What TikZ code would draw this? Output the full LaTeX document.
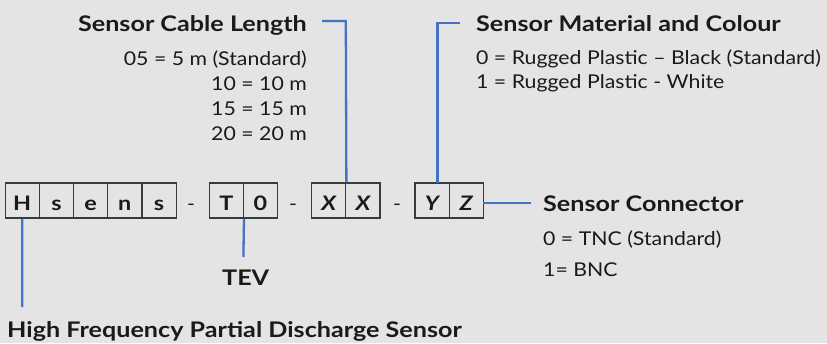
\documentclass[tikz,border=0pt]{standalone}
\usepackage{fontspec}
\setmainfont[FakeStretch=1.12]{Lato}
\newfontfamily\boldwide[FakeStretch=1.17]{Lato}
\definecolor{bg}{HTML}{E4E4E4}
\definecolor{lineblue}{HTML}{4472C4}
\definecolor{ink}{HTML}{1A1A1A}
\definecolor{boxline}{HTML}{3A3A3A}
\tikzset{
  cell/.style={draw=boxline, line width=1.2pt, minimum width=34.2pt, inner sep=0pt,
    text height=27pt, text depth=8pt, font=\boldwide\fontsize{20}{24}\selectfont\bfseries, text=ink},
  sep/.style={inner sep=0pt, anchor=base, font=\fontsize{19}{23}\selectfont, text=ink},
  title/.style={inner sep=0pt, font=\boldwide\fontsize{21.5}{26}\selectfont\bfseries, text=ink},
  item/.style={inner sep=0pt, font=\fontsize{19}{23}\selectfont, text=ink},
  conn/.style={draw=lineblue, line width=2.3pt}
}
\begin{document}
\begin{tikzpicture}[x=1pt,y=-1pt]
\fill[bg] (0,0) rectangle (827,343);
\useasboundingbox (0,0) rectangle (827,343);
% code cells
\node[cell] (h)  at (22.2,200.5) {H};
\node[cell] (s1) at (56.4,200.5) {s};
\node[cell] (e)  at (90.6,200.5) {e};
\node[cell] (n)  at (124.8,200.5) {n};
\node[cell] (s2) at (159,200.5) {s};
\node[sep] (d1) at (191,210) {-};
\node[cell] (t)  at (226.3,200.5) {T};
\node[cell] (o)  at (260.5,200.5) {0};
\node[sep] (d2) at (293,210) {-};
\node[cell] (x1) at (328.7,200.5) {\itshape X};
\node[cell] (x2) at (362.9,200.5) {\itshape X};
\node[sep] (d3) at (397,210) {-};
\node[cell] (y)  at (432,200.5) {\itshape Y};
\node[cell] (z)  at (466.2,200.5) {\itshape Z};
% Cable length
\node[title, anchor=base east] (cl) at (307,31.7) {Sensor Cable Length};
\node[item, anchor=base east] (cl1) at (307,65) {05 = 5 m (Standard)};
\node[item, anchor=base east] (cl2) at (307,90) {10 = 10 m};
\node[item, anchor=base east] (cl3) at (307,115) {15 = 15 m};
\node[item, anchor=base east] (cl4) at (307,140) {20 = 20 m};
% Material
\node[title, anchor=base west] (mc) at (476,31.7) {Sensor Material and Colour};
\node[item, anchor=base west] (mc1) at (476,64.3) {0 = Rugged Plastic – Black (Standard)};
\node[item, anchor=base west] (mc2) at (476,88.3) {1 = Rugged Plastic - White};
% Connector
\node[title, anchor=base west] (sc) at (543,211.7) {Sensor Connector};
\node[item, anchor=base west] (sc1) at (543,245) {0 = TNC (Standard)};
\node[item, anchor=base west] (sc2) at (543,276) {1= BNC};
% TEV and HF
\node[title, anchor=base] (tev) at (245.7,285.7) {TEV};
\node[title, anchor=base west] (hf) at (7,337.7) {High Frequency Partial Discharge Sensor};
% connectors
\coordinate (hfend) at (22.3,307);
\coordinate (tevend) at (243.4,257);
\coordinate (clcorner) at (345.8,21);
\coordinate (clend) at (322,21);
\coordinate (ybot) at (437.5,183);
\coordinate (ycorner) at (437.5,22.7);
\coordinate (yend) at (460,22.7);
\coordinate (zstart) at (483.3,203.3);
\coordinate (zend) at (530.7,203.3);
\draw[conn] (h.south) -- (hfend);
\draw[conn] (t.south east) -- (tevend);
\draw[conn] (x1.north east) -- (clcorner) -- (clend);
\draw[conn] (ybot) -- (ycorner) -- (yend);
\draw[conn] (zstart) -- (zend);
\end{tikzpicture}
\end{document}
